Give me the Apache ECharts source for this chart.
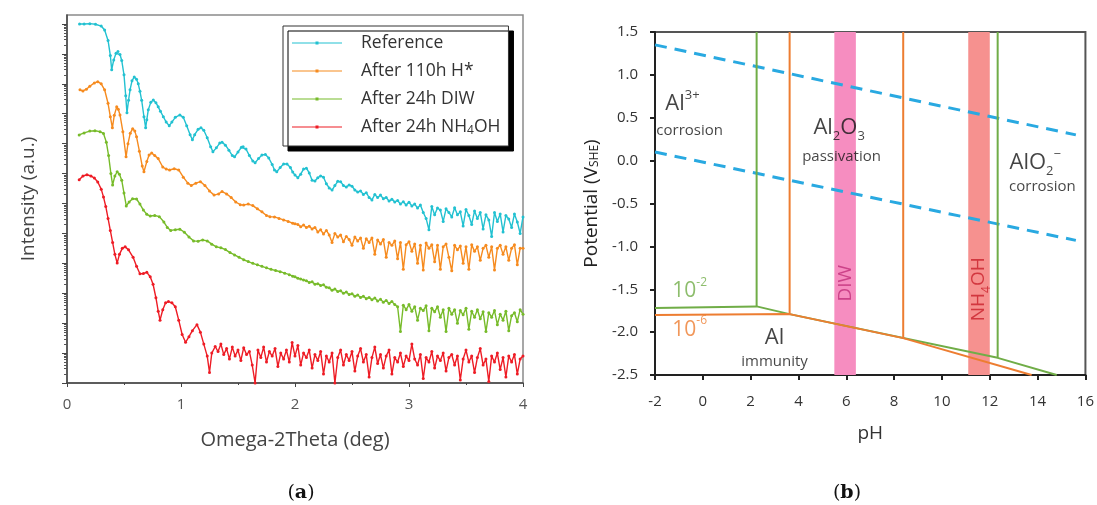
<!DOCTYPE html>
<html>
<head>
<meta charset="utf-8">
<script src="https://cdn.jsdelivr.net/npm/echarts@6/dist/echarts.min.js"></script>
<style>
  html, body { margin: 0; padding: 0; background: #fff; }
  #chart { width: 1097px; height: 505px; }
</style>
</head>
<body>
<div id="chart"></div>
<script>
// ---------- (a) X-ray reflectivity curves, log10 intensity vs Omega-2Theta ----------
const seriesNames = ['Reference', 'After 110h H*', 'After 24h DIW', 'After 24h NH4OH'];
const seriesColors = ['#22c1d1', '#f68b1f', '#77bb2a', '#ee1c25'];

// Oscillating parts: [deg, log10 intensity]
const refHead = [[0.11,12.0],[0.15,12.0],[0.2,12.01],[0.25,11.99],[0.3,11.93],[0.33,11.8],[0.36,11.45],[0.38,10.95],[0.392,10.47],[0.41,10.8],[0.43,11.02],[0.447,11.08],[0.465,10.98],[0.48,10.78],[0.5,10.3],[0.515,9.6],[0.526,9.03],[0.54,9.45],[0.553,9.8],[0.57,10.1],[0.59,10.23],[0.61,10.15],[0.625,10.0],[0.64,9.75],[0.655,9.45],[0.675,8.9],[0.69,8.53],[0.70,8.8],[0.713,9.13],[0.735,9.38],[0.757,9.46],[0.78,9.37],[0.8,9.23],[0.82,9.08],[0.845,8.9],[0.87,8.72],[0.897,8.6],[0.92,8.72],[0.95,8.88],[0.99,8.96],[1.02,8.88],[1.05,8.6],[1.08,8.3],[1.1,8.13],[1.12,8.3],[1.15,8.48],[1.175,8.53],[1.2,8.45],[1.23,8.2],[1.26,7.9],[1.28,7.73],[1.31,7.86],[1.34,8.02],[1.36,8.05],[1.39,7.95],[1.42,7.78],[1.45,7.6],[1.47,7.56],[1.5,7.72],[1.53,7.88],[1.545,7.9],[1.57,7.82],[1.6,7.6],[1.63,7.42],[1.65,7.36],[1.68,7.5],[1.71,7.62],[1.74,7.64],[1.77,7.52],[1.8,7.3],[1.82,7.12],[1.84,7.06],[1.87,7.2],[1.9,7.32],[1.93,7.32],[1.96,7.2],[1.98,7.05]];
const h110Head = [[0.114,9.8],[0.14,9.76],[0.17,9.82],[0.2,9.92],[0.24,10.03],[0.27,10.07],[0.3,10.0],[0.33,9.8],[0.36,9.35],[0.38,8.9],[0.398,8.53],[0.415,8.95],[0.436,9.23],[0.45,9.15],[0.465,8.96],[0.49,8.4],[0.518,7.56],[0.535,8.0],[0.555,8.35],[0.576,8.5],[0.595,8.42],[0.61,8.23],[0.635,7.75],[0.66,7.25],[0.675,7.06],[0.7,7.4],[0.72,7.62],[0.743,7.69],[0.77,7.6],[0.8,7.5],[0.84,7.22],[0.87,7.15],[0.9,7.12],[0.94,7.16],[0.98,7.12],[1.02,6.88],[1.06,6.68],[1.09,6.6],[1.13,6.68],[1.17,6.73],[1.21,6.6],[1.25,6.42],[1.29,6.28],[1.33,6.32],[1.36,6.4],[1.4,6.32],[1.44,6.2],[1.48,6.05],[1.52,5.96],[1.55,5.95],[1.59,5.98],[1.63,5.93],[1.67,5.82],[1.71,5.72],[1.75,5.6],[1.78,5.56],[1.82,5.55],[1.86,5.5],[1.9,5.45],[1.94,5.4],[1.98,5.34]];
const diwHead = [[0.107,8.29],[0.15,8.36],[0.2,8.42],[0.245,8.43],[0.29,8.4],[0.32,8.34],[0.345,8.05],[0.365,7.6],[0.385,7.0],[0.4,6.62],[0.42,6.92],[0.44,7.06],[0.46,6.98],[0.48,6.78],[0.5,6.35],[0.52,5.92],[0.545,6.05],[0.575,6.16],[0.61,6.15],[0.64,5.98],[0.67,5.78],[0.7,5.64],[0.73,5.58],[0.77,5.6],[0.81,5.56],[0.85,5.38],[0.88,5.2],[0.91,5.1],[0.95,5.12],[0.99,5.14],[1.03,5.04],[1.07,4.88],[1.11,4.75],[1.15,4.74],[1.19,4.78],[1.23,4.75],[1.27,4.64],[1.31,4.55],[1.35,4.52],[1.39,4.46],[1.43,4.36],[1.47,4.28],[1.51,4.2],[1.55,4.12],[1.59,4.06],[1.63,4.0],[1.67,3.95],[1.71,3.9],[1.75,3.85],[1.79,3.8],[1.83,3.76],[1.87,3.72],[1.91,3.67],[1.95,3.62],[1.98,3.57]];
const nh4Head = [[0.107,6.79],[0.14,6.92],[0.175,6.96],[0.21,6.92],[0.24,6.85],[0.27,6.72],[0.3,6.48],[0.32,6.22],[0.34,5.9],[0.36,5.5],[0.38,5.1],[0.4,4.7],[0.42,4.3],[0.44,4.01],[0.46,4.3],[0.485,4.5],[0.51,4.55],[0.54,4.45],[0.58,4.2],[0.61,3.9],[0.64,3.65],[0.67,3.66],[0.7,3.7],[0.73,3.55],[0.755,3.3],[0.78,2.85],[0.8,2.4],[0.816,2.1],[0.84,2.45],[0.865,2.68],[0.89,2.72],[0.92,2.68],[0.95,2.55],[0.98,2.1],[1.01,1.62],[1.04,1.36],[1.07,1.55],[1.1,1.75],[1.14,1.95],[1.17,1.7],[1.2,1.3],[1.23,0.9],[1.25,0.35],[1.27,1.0]];

// Noisy tails, sampled every 0.025 deg from the given start angle
const tailStep = 0.025;
const refTailStart = 2.0;
const refTail = [6.95,6.86,6.98,7.15,7.18,7.02,6.78,6.75,6.86,6.92,6.88,6.66,6.52,6.45,6.6,6.74,6.73,6.6,6.55,6.62,6.58,6.45,6.38,6.42,6.3,6.36,6.2,6.12,6.3,6.2,6.28,6.16,6.2,6.08,6.14,6.05,6.1,5.98,6.06,5.95,6.04,5.92,5.98,5.85,5.95,5.7,5.5,5.12,5.9,5.62,5.85,5.78,5.4,5.82,5.7,5.55,5.86,5.62,5.72,5.25,5.8,5.6,5.3,5.75,5.5,5.7,5.15,5.62,5.45,4.9,5.7,5.4,5.65,5.05,5.6,5.48,5.2,5.65,5.38,5.0,5.55];
const h110TailStart = 2.0;
const h110Tail = [5.32,5.3,5.22,5.28,5.2,5.24,5.15,5.2,5.05,5.12,4.98,5.1,4.95,4.7,5.0,4.88,4.95,4.72,4.9,4.8,4.6,4.88,4.75,4.85,4.5,4.82,4.7,4.85,4.3,4.78,4.65,4.8,4.2,4.7,4.6,4.75,4.15,4.7,3.8,4.62,4.72,4.4,4.65,4.0,4.6,3.78,4.68,4.5,4.62,4.05,4.6,3.8,4.55,4.65,4.2,3.75,4.6,4.45,4.58,4.0,4.55,3.8,4.62,4.4,4.55,4.1,4.5,4.6,4.2,4.55,3.78,4.5,4.6,4.3,4.55,4.1,4.5,4.62,3.95,4.5,4.5];
const diwTailStart = 2.0;
const diwTail = [3.55,3.5,3.48,3.44,3.42,3.36,3.38,3.3,3.32,3.26,3.28,3.2,3.18,3.1,3.14,3.06,3.08,3.0,3.04,2.96,2.98,2.9,2.94,2.86,2.9,2.82,2.86,2.78,2.84,2.74,2.8,2.7,2.76,2.66,2.72,2.62,2.55,1.72,2.6,2.45,2.62,2.4,2.55,2.1,2.5,2.42,2.58,1.75,2.5,2.38,2.55,2.2,2.45,1.72,2.5,2.3,2.45,2.0,2.42,2.28,2.5,1.8,2.4,2.2,2.45,2.15,2.38,1.72,2.35,2.2,2.42,1.95,2.3,2.1,2.4,1.75,2.25,2.35,2.05,2.45,2.3];
const nh4TailStart = 1.3;
const nh4Tail = [1.22,1.05,1.3,0.95,1.15,0.8,1.2,0.9,1.1,0.75,1.18,0.95,1.05,0.6,0.0,1.1,0.85,1.2,0.7,1.05,0.9,1.15,0.55,1.0,0.8,1.1,0.7,1.35,0.9,1.25,0.6,1.0,0.85,1.1,0.5,0.95,0.75,1.05,0.3,0.9,0.7,1.0,0.0,0.85,1.1,0.6,0.95,0.75,1.05,0.4,0.9,1.15,0.7,0.95,0.2,0.85,1.2,0.65,0.95,0.5,0.9,1.1,0.3,0.85,0.7,1.0,0.55,0.9,0.75,1.3,0.8,0.6,0.95,0.15,0.85,0.7,1.05,0.5,0.9,0.75,1.0,0.4,0.85,0.95,0.6,0.9,0.1,0.8,1.1,0.7,0.9,0.35,0.85,1.15,0.6,0.8,0.05,0.9,0.7,1.0,0.45,0.85,0.2,0.9,0.7,0.95,0.3,0.8,0.9];

// Decade ticks of the intensity axis (log10 units)
const decadeTicks = [0,1,2,3,4,5,6,7,8,9,10,11,12];
const xrrXTicks = [0, 1, 2, 3, 4];

// ---------- (b) Pourbaix diagram of aluminium ----------
const phTicks = [-2, 0, 2, 4, 6, 8, 10, 12, 14, 16];
const waterUpper = [[-2, 1.35], [15.6, 0.30]];
const waterLower = [[-2, 0.10], [15.6, -0.93]];
// 10^-2 activity boundaries
const greenBoundary = [[-2, -1.72], [2.25, -1.70], [3.63, -1.79], [12.33, -2.30], [14.8, -2.5]];
const greenLowPH = [[2.25, -1.70], [2.25, 1.5]];
const greenHighPH = [[12.33, -2.30], [12.33, 1.5]];
// 10^-6 activity boundaries
const orangeBoundary = [[-2, -1.80], [3.63, -1.79], [8.38, -2.07], [13.75, -2.5]];
const orangeLowPH = [[3.63, -1.79], [3.63, 1.5]];
const orangeHighPH = [[8.38, -2.07], [8.38, 1.5]];
// Solution pH bands
const bandDIW = [5.5, 6.4];
const bandNH4OH = [11.1, 12.0];

const FONT = 'Open Sans, Noto Sans, sans-serif';

function withTail(head, start, tail) {
  return head.concat(tail.map((v, i) => [+(start + i * tailStep).toFixed(4), v]));
}
const xrrData = [
  withTail(refHead, refTailStart, refTail),
  withTail(h110Head, h110TailStart, h110Tail),
  withTail(diwHead, diwTailStart, diwTail),
  withTail(nh4Head, nh4TailStart, nh4Tail)
];

// log-spaced minor ticks between decades
const minorTicks = [];
decadeTicks.forEach(d => {
  for (let k = 2; k <= 9; k++) {
    const v = d + Math.log10(k);
    if (v < 12.3) minorTicks.push(v);
  }
});

const INK = '#151515';
const chemRich = {
  m: { fontSize: 22, color: INK, fontFamily: FONT, lineHeight: 30 },
  sup: { fontSize: 13, color: INK, fontFamily: FONT, verticalAlign: 'top', lineHeight: 16 },
  sub: { fontSize: 13, color: INK, fontFamily: FONT, verticalAlign: 'bottom', lineHeight: 14 },
  s: { fontSize: 15, color: INK, fontFamily: FONT }
};

function coloredRich(color, size) {
  return {
    m: { fontSize: size, color: color, fontFamily: FONT, lineHeight: size + 8 },
    sup: { fontSize: 12, color: color, fontFamily: FONT, verticalAlign: 'top', lineHeight: 14 },
    sub: { fontSize: 12, color: color, fontFamily: FONT, verticalAlign: 'bottom', lineHeight: 13 }
  };
}

// Region and band annotations: [pH, potential, rich text, style key, rotate]
const annotations = [
  [-0.85, 0.66, '{m|Al}{sup|3+}', 'chem', 0],
  [-0.55, 0.35, '{s|corrosion}', 'chem', 0],
  [5.7, 0.38, '{m|Al}{sub|2}{m|O}{sub|3}', 'chem', 0],
  [5.8, 0.05, '{s|passivation}', 'chem', 0],
  [13.9, -0.03, '{m|AlO}{sub|2}{sup|\u2212}', 'chem', 0],
  [14.2, -0.30, '{s|corrosion}', 'chem', 0],
  [3.0, -2.06, '{m|Al}', 'chem', 0],
  [3.0, -2.34, '{s|immunity}', 'chem', 0],
  [-0.55, -1.52, '{m|10}{sup|-2}', 'green', 0],
  [-0.55, -1.97, '{m|10}{sup|-6}', 'orange', 0],
  [5.95, -1.43, '{m|DIW}', 'diw', 90],
  [11.55, -1.50, '{m|NH}{sub|4}{m|OH}', 'nh4', 90]
];
const annotationRich = {
  chem: chemRich,
  green: coloredRich('#70ad47', 21),
  orange: coloredRich('#ed7d31', 21),
  diw: coloredRich('#c2307a', 19),
  nh4: coloredRich('#c9212b', 19)
};

const xrrSeries = xrrData.map((d, i) => ({
  name: seriesNames[i],
  type: 'line',
  xAxisIndex: 0,
  yAxisIndex: 0,
  data: d,
  symbol: 'circle',
  symbolSize: 3,
  showAllSymbol: true,
  color: seriesColors[i],
  lineStyle: { width: 1.4, color: seriesColors[i] },
  itemStyle: { color: seriesColors[i] },
  z: 3 + (3 - i)
}));

function boundary(data, color, width, dash) {
  return {
    type: 'line', xAxisIndex: 1, yAxisIndex: 2, data: data,
    symbol: 'none', silent: true, z: 4,
    lineStyle: { color: color, width: width, type: dash || 'solid' }
  };
}

const option = {
  animation: false,
  backgroundColor: '#fff',
  textStyle: { fontFamily: FONT },
  title: [
    { text: '({b|a})', left: 296, top: 479, textAlign: 'center',
      textStyle: { fontFamily: 'DejaVu Serif, serif', fontSize: 19, fontWeight: 'normal', color: '#111',
        rich: { b: { fontFamily: 'DejaVu Serif, serif', fontSize: 19, fontWeight: 'bold', color: '#111' } } } },
    { text: '({b|b})', left: 842, top: 479, textAlign: 'center',
      textStyle: { fontFamily: 'DejaVu Serif, serif', fontSize: 19, fontWeight: 'normal', color: '#111',
        rich: { b: { fontFamily: 'DejaVu Serif, serif', fontSize: 19, fontWeight: 'bold', color: '#111' } } } }
  ],
  legend: {
    data: seriesNames,
    orient: 'vertical',
    left: 283, top: 26,
    padding: [7, 8, 9, 9],
    itemGap: 8,
    itemWidth: 50,
    itemHeight: 3,
    icon: 'path://M0,1 L50,1 L50,2 L0,2 Z M23.5,0 L26.5,0 L26.5,3 L23.5,3 Z',
    backgroundColor: '#fff',
    borderColor: '#333',
    borderWidth: 1,
    shadowColor: '#000',
    shadowBlur: 0,
    shadowOffsetX: 5,
    shadowOffsetY: 5,
    formatter: name => name.replace('NH4OH', 'NH{sub|4}OH'),
    textStyle: {
      fontFamily: FONT, fontSize: 17.5, color: '#333', lineHeight: 20, padding: [0, 0, 0, 14],
      rich: { sub: { fontFamily: FONT, fontSize: 12, color: '#333', verticalAlign: 'bottom', lineHeight: 12 } }
    }
  },
  grid: [
    { left: 67, top: 15, width: 456, height: 368, show: true, borderColor: '#8a8a8a', borderWidth: 1.5, backgroundColor: 'transparent' },
    { left: 655, top: 32, width: 432, height: 343, show: true, borderColor: '#555', borderWidth: 2, backgroundColor: 'transparent' }
  ],
  xAxis: [
    {
      gridIndex: 0, type: 'value', min: 0, max: 4, interval: 1,
      name: 'Omega-2Theta (deg)', nameLocation: 'middle', nameGap: 47,
      nameTextStyle: { fontFamily: FONT, fontSize: 20, color: '#444' },
      axisLine: { onZero: false, lineStyle: { color: '#444', width: 1.5 } },
      axisTick: { length: 4, lineStyle: { color: '#444' } },
      minorTick: { show: true, splitNumber: 2, length: 2, lineStyle: { color: '#444' } },
      axisLabel: { fontSize: 15, color: '#555', margin: 14, customValues: xrrXTicks },
      splitLine: { show: false }
    },
    {
      gridIndex: 1, type: 'value', min: -2, max: 16, interval: 2,
      name: 'pH', nameLocation: 'middle', nameGap: 49,
      nameTextStyle: { fontFamily: FONT, fontSize: 19, color: '#333' },
      axisLine: { onZero: false, lineStyle: { color: '#222', width: 2 } },
      axisTick: { length: 5, lineStyle: { color: '#222', width: 2 } },
      axisLabel: { fontSize: 15, color: '#333', margin: 19, customValues: phTicks },
      splitLine: { show: false }
    }
  ],
  yAxis: [
    {
      gridIndex: 0, type: 'value', min: 0, max: 12.3, position: 'left',
      name: 'Intensity (a.u.)', nameLocation: 'middle', nameGap: 29,
      nameTextStyle: { fontFamily: FONT, fontSize: 19, color: '#444' },
      axisLine: { onZero: false, lineStyle: { color: '#444', width: 1.5 } },
      axisTick: { length: 5, customValues: decadeTicks, lineStyle: { color: '#444' } },
      axisLabel: { show: false, customValues: decadeTicks },
      splitLine: { show: false }
    },
    {
      gridIndex: 0, type: 'value', min: 0, max: 12.3, position: 'left', offset: 0,
      axisLine: { show: false, onZero: false },
      axisTick: { length: 3, customValues: minorTicks, lineStyle: { color: '#555' } },
      axisLabel: { show: false, customValues: minorTicks },
      splitLine: { show: false }
    },
    {
      gridIndex: 1, type: 'value', min: -2.5, max: 1.5, interval: 0.5,
      name: 'Potential (V{sub|SHE})', nameLocation: 'middle', nameGap: 54,
      nameTextStyle: { fontFamily: FONT, fontSize: 19, color: '#222',
        rich: { sub: { fontFamily: FONT, fontSize: 12, color: '#222', verticalAlign: 'bottom', lineHeight: 12 } } },
      axisLine: { onZero: false, lineStyle: { color: '#222', width: 2 } },
      axisTick: { length: 5, lineStyle: { color: '#222', width: 2 } },
      axisLabel: { fontSize: 15, color: '#333', margin: 17, formatter: v => v.toFixed(1) },
      splitLine: { show: false }
    }
  ],
  series: [
    ...xrrSeries,
    {
      type: 'line', xAxisIndex: 1, yAxisIndex: 2, data: [], silent: true, z: 1,
      markArea: {
        silent: true,
        data: [
          [{ xAxis: bandDIW[0], itemStyle: { color: '#f68dc0' } }, { xAxis: bandDIW[1] }],
          [{ xAxis: bandNH4OH[0], itemStyle: { color: '#f6918f' } }, { xAxis: bandNH4OH[1] }]
        ]
      }
    },
    boundary(waterUpper, '#29a9e1', 3, [12, 8]),
    boundary(waterLower, '#29a9e1', 3, [12, 8]),
    boundary(greenBoundary, '#70ad47', 2),
    boundary(greenLowPH, '#70ad47', 2),
    boundary(greenHighPH, '#70ad47', 2),
    boundary(orangeBoundary, '#ed7d31', 2),
    boundary(orangeLowPH, '#ed7d31', 2),
    boundary(orangeHighPH, '#ed7d31', 2),
    {
      type: 'scatter', xAxisIndex: 1, yAxisIndex: 2, symbolSize: 0, silent: true, z: 6,
      data: annotations.map(a => ({
        value: [a[0], a[1]],
        label: {
          show: true, position: 'inside', rotate: a[4], color: INK,
          textBorderWidth: 0, textShadowBlur: 0,
          formatter: a[2], rich: annotationRich[a[3]]
        }
      }))
    }
  ]
};

const chart = echarts.init(document.getElementById('chart'), null, { renderer: 'canvas' });
chart.setOption(option);
</script>
</body>
</html>
